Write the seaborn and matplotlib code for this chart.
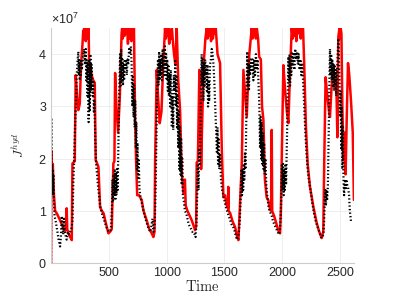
import matplotlib
matplotlib.use("Agg")
import matplotlib.pyplot as plt
import matplotlib.ticker as mticker
import seaborn as sns
import numpy as np
import pandas as pd

# ---- data (values in units of 1e7) ----
t_red = [0, 2, 8, 15, 25, 35, 50, 78, 100, 121, 130, 135, 140, 150, 165, 179, 185, 205, 213, 225, 236, 248,
         260, 272, 278, 282, 286, 290, 295, 300, 305, 310, 315, 320, 325, 330, 337, 350, 365, 378, 386, 400,
         410, 424, 440, 455, 470, 482, 496, 510, 525, 539, 548, 554, 565, 580, 595, 610, 615, 620, 628, 635,
         642, 650, 658, 665, 672, 680, 688, 695, 702, 710, 717, 727, 735, 745, 760, 784, 800, 827, 850, 871,
         885, 895, 900, 914, 925, 940, 955, 970, 986, 993, 1000, 1008, 1015, 1022, 1030, 1038, 1045, 1060, 1075,
         1087, 1100, 1116, 1130, 1145, 1158, 1165, 1180, 1200, 1217, 1235, 1246, 1255, 1260, 1270, 1283, 1290,
         1298, 1305, 1320, 1335, 1347, 1354, 1361, 1368, 1376, 1384, 1392, 1400, 1410, 1418, 1425, 1440, 1462,
         1477, 1491, 1505, 1520, 1530, 1533, 1536, 1549, 1570, 1592, 1610, 1621, 1635, 1650, 1664, 1680, 1693,
         1705, 1715, 1736, 1743, 1750, 1757, 1765, 1772, 1780, 1791, 1800, 1815, 1825, 1837, 1850, 1865, 1880,
         1895, 1905, 1909, 1913, 1930, 1950, 1970, 1981, 1988, 1995, 2010, 2025, 2040, 2053, 2065, 2082, 2090,
         2098, 2106, 2114, 2122, 2130, 2140, 2150, 2160, 2170, 2180, 2190, 2205, 2220, 2240, 2270, 2298, 2320,
         2341, 2355, 2363, 2375, 2390, 2405, 2413, 2425, 2440, 2455, 2470, 2477, 2485, 2495, 2500, 2505, 2512,
         2520, 2530, 2540, 2548, 2560, 2569, 2580, 2595, 2610, 2620]
j_red = [0.0, 2.15, 1.5, 1.9, 1.3, 1.0, 0.95, 0.82, 0.7, 0.62, 0.7, 1.05, 0.65, 0.57, 0.5, 0.44, 1.91, 1.95,
         3.6, 3.2, 2.93, 3.05, 3.83, 4.2, 4.45, 4.3, 4.5, 4.35, 4.5, 4.25, 4.5, 4.4, 4.5, 4.3, 4.5, 3.64, 3.8,
         3.6, 3.5, 3.45, 1.97, 1.9, 1.84, 1.07, 1.0, 0.95, 0.8, 0.69, 0.57, 0.6, 0.65, 1.91, 1.95, 3.64, 3.0,
         2.5, 3.2, 4.4, 4.5, 4.3, 4.5, 4.35, 4.5, 4.4, 4.5, 4.2, 4.5, 4.3, 4.5, 4.25, 4.5, 4.4, 4.5, 2.8, 2.0,
         1.3, 1.3, 1.21, 1.0, 0.82, 0.65, 0.57, 0.5, 0.6, 1.93, 3.7, 3.2, 2.68, 2.9, 3.8, 4.5, 4.3, 4.5, 4.35,
         4.5, 4.2, 4.45, 4.3, 4.5, 4.08, 3.8, 4.5, 3.5, 2.93, 1.78, 1.34, 1.6, 1.1, 1.0, 0.9, 0.82, 0.7, 0.63,
         0.7, 1.93, 1.95, 3.7, 3.5, 1.8, 2.5, 3.8, 4.3, 4.5, 4.3, 4.5, 4.35, 4.5, 4.25, 4.5, 4.3, 4.5, 4.4, 4.5,
         4.0, 3.83, 2.16, 1.26, 1.3, 1.1, 1.05, 1.46, 1.0, 0.96, 0.8, 0.69, 0.5, 0.44, 1.15, 1.93, 3.7, 3.2,
         2.8, 3.5, 4.0, 4.5, 4.3, 4.5, 4.35, 4.5, 4.3, 4.5, 4.3, 3.95, 3.9, 3.0, 2.74, 1.6, 1.26, 1.2, 1.02,
         1.0, 2.55, 1.0, 0.9, 0.75, 0.6, 0.57, 1.0, 1.93, 3.79, 3.3, 2.9, 2.68, 3.5, 4.5, 4.3, 4.5, 4.35, 4.5,
         4.25, 4.5, 4.4, 4.5, 4.3, 4.5, 4.5, 3.8, 2.6, 1.9, 1.46, 1.07, 0.77, 0.6, 0.48, 0.6, 1.91, 3.56, 3.2,
         2.9, 2.8, 3.3, 3.8, 3.5, 3.2, 2.41, 4.33, 4.5, 4.3, 4.5, 4.4, 3.0, 1.97, 2.5, 1.7, 3.0, 3.83, 3.6,
         3.1, 2.5, 1.21]

t_black = [0, 2, 5, 8, 11, 14, 17, 20, 24, 30, 40, 55, 65, 78, 85, 92, 98, 105, 112, 120, 128, 135, 145, 155,
           165, 175, 185, 192, 200, 205, 210, 215, 220, 225, 230, 236, 240, 244, 248, 252, 256, 260, 265, 270,
           275, 280, 285, 290, 295, 300, 305, 310, 315, 320, 325, 330, 335, 340, 345, 350, 355, 360, 365, 370,
           375, 380, 385, 390, 398, 405, 415, 425, 440, 455, 470, 485, 500, 512, 520, 527, 531, 536, 541, 546,
           551, 556, 561, 566, 571, 576, 582, 590, 597, 602, 607, 612, 617, 622, 627, 632, 637, 642, 648, 655,
           662, 668, 675, 682, 690, 697, 703, 708, 713, 718, 723, 728, 733, 738, 743, 748, 753, 758, 765, 775,
           790, 810, 830, 845, 860, 870, 878, 885, 892, 898, 905, 912, 918, 925, 930, 935, 940, 945, 950, 955,
           960, 965, 970, 975, 980, 985, 990, 995, 1000, 1005, 1010, 1015, 1020, 1025, 1030, 1035, 1040, 1045,
           1050, 1057, 1062, 1068, 1075, 1080, 1085, 1090, 1095, 1100, 1105, 1110, 1115, 1120, 1125, 1130, 1135,
           1140, 1148, 1158, 1170, 1180, 1190, 1200, 1212, 1222, 1232, 1242, 1250, 1258, 1264, 1270, 1276, 1282,
           1288, 1293, 1298, 1303, 1308, 1313, 1318, 1323, 1328, 1333, 1338, 1343, 1348, 1353, 1358, 1363, 1368,
           1375, 1383, 1390, 1398, 1405, 1412, 1420, 1428, 1435, 1440, 1445, 1450, 1455, 1462, 1470, 1480, 1490,
           1500, 1515, 1530, 1545, 1560, 1575, 1590, 1600, 1610, 1618, 1625, 1632, 1638, 1643, 1648, 1652, 1657,
           1662, 1667, 1672, 1677, 1682, 1688, 1693, 1697, 1702, 1707, 1712, 1717, 1722, 1728, 1735, 1742, 1750,
           1758, 1765, 1772, 1780, 1787, 1795, 1802, 1808, 1813, 1818, 1823, 1828, 1833, 1838, 1843, 1848, 1855,
           1862, 1870, 1880, 1890, 1900, 1910, 1920, 1930, 1940, 1950, 1960, 1970, 1978, 1985, 1992, 1997, 2002,
           2007, 2012, 2017, 2022, 2028, 2033, 2039, 2046, 2053, 2058, 2063, 2068, 2073, 2078, 2083, 2090, 2098,
           2105, 2112, 2120, 2128, 2135, 2142, 2150, 2158, 2165, 2172, 2180, 2190, 2200, 2210, 2220, 2230, 2245,
           2260, 2275, 2290, 2305, 2320, 2335, 2345, 2355, 2362, 2368, 2373, 2378, 2383, 2388, 2395, 2402, 2408,
           2413, 2418, 2423, 2428, 2433, 2438, 2443, 2448, 2453, 2458, 2463, 2468, 2473, 2478, 2485, 2490, 2495,
           2500, 2505, 2510, 2515, 2520, 2525, 2530, 2535, 2540, 2545, 2550, 2556, 2562, 2570, 2578, 2585, 2595]
j_black = [0.0, 2.78, 1.3, 1.9, 1.4, 1.8, 1.3, 1.7, 1.2, 0.9, 0.8, 0.6, 0.45, 0.32, 0.5, 0.9, 0.7, 0.55, 0.85,
           0.6, 0.5, 0.45, 0.6, 0.55, 0.6, 0.65, 0.8, 1.5, 2.0, 2.4, 2.8, 3.0, 3.5, 3.7, 3.9, 4.05, 3.6, 3.9,
           3.5, 3.8, 3.6, 3.9, 3.7, 3.8, 3.9, 4.05, 4.1, 3.9, 3.8, 4.1, 3.5, 3.9, 3.2, 3.8, 2.7, 3.9, 2.9, 4.0,
           3.3, 3.8, 3.6, 3.2, 3.5, 2.9, 3.1, 2.6, 2.2, 1.9, 1.7, 1.5, 1.3, 1.1, 0.95, 0.85, 0.75, 0.65, 0.6,
           0.62, 0.7, 1.1, 1.6, 1.2, 1.7, 1.3, 1.8, 1.2, 1.7, 1.3, 1.8, 1.4, 2.2, 3.3, 4.0, 3.4, 4.1, 3.5, 3.9,
           3.4, 3.8, 3.5, 3.9, 3.7, 3.9, 3.6, 3.9, 3.8, 4.1, 4.0, 4.15, 3.8, 3.0, 3.6, 2.8, 3.4, 2.6, 3.1, 2.2,
           2.7, 1.8, 2.3, 1.6, 2.0, 1.4, 1.25, 1.1, 0.9, 0.75, 0.65, 0.6, 0.75, 0.85, 0.6, 0.65, 0.8, 1.5, 2.5,
           3.3, 3.9, 3.4, 4.05, 3.5, 3.9, 3.6, 4.0, 3.5, 4.1, 3.7, 3.9, 3.6, 4.15, 3.8, 4.0, 3.5, 3.9, 3.3, 3.8,
           3.2, 3.6, 3.0, 3.7, 3.4, 2.6, 3.2, 2.55, 3.6, 3.3, 3.9, 3.0, 3.6, 2.6, 3.2, 2.2, 2.9, 1.8, 2.6, 1.7,
           2.4, 1.5, 2.0, 1.3, 1.2, 1.0, 0.95, 0.85, 0.75, 0.7, 0.65, 0.6, 0.6, 0.55, 0.5, 0.8, 1.3, 1.9, 1.4,
           2.2, 1.9, 2.7, 3.5, 4.0, 3.4, 3.9, 3.1, 3.8, 3.4, 3.9, 3.6, 3.7, 3.3, 3.8, 3.0, 3.5, 3.1, 3.8, 3.9,
           4.1, 4.0, 3.8, 3.5, 3.0, 2.5, 2.1, 2.6, 1.9, 2.4, 1.8, 2.1, 1.6, 1.4, 1.3, 1.2, 1.05, 0.95, 0.85,
           0.75, 0.7, 0.6, 0.5, 0.45, 0.5, 0.6, 0.8, 1.1, 1.5, 1.8, 1.3, 1.8, 1.4, 1.9, 1.6, 2.1, 1.8, 2.6, 3.4,
           4.05, 3.4, 3.9, 3.3, 3.8, 3.6, 3.9, 3.7, 3.9, 3.5, 3.9, 3.6, 4.0, 3.7, 3.9, 3.4, 3.0, 2.2, 2.8, 2.0,
           2.7, 1.9, 2.5, 1.8, 2.3, 1.7, 2.0, 1.5, 1.3, 1.1, 1.0, 0.95, 0.9, 0.8, 0.75, 0.7, 0.65, 0.6, 0.55,
           0.6, 0.8, 1.3, 1.9, 1.4, 1.9, 1.3, 1.8, 1.4, 1.9, 1.5, 2.2, 3.0, 3.95, 3.5, 4.0, 3.4, 3.9, 3.6, 4.05,
           3.8, 4.0, 3.7, 4.1, 3.9, 4.05, 3.8, 4.0, 3.7, 3.9, 3.6, 3.8, 3.5, 3.0, 2.5, 2.1, 1.8, 1.6, 1.4, 1.15,
           0.95, 0.8, 0.7, 0.6, 0.5, 0.48, 0.55, 0.8, 1.2, 1.4, 1.1, 1.4, 1.2, 1.5, 2.5, 3.5, 4.1, 3.6, 4.0,
           3.5, 3.9, 3.4, 3.8, 3.3, 3.8, 3.4, 3.7, 3.2, 3.6, 3.9, 4.3, 4.0, 3.5, 2.8, 3.3, 2.2, 3.0, 1.8, 2.6,
           1.6, 1.3, 1.5, 1.6, 1.4, 1.6, 1.5, 1.45, 1.3, 1.0, 0.8]

x_ticks = [500, 1000, 1500, 2000, 2500]
y_ticks = [0, 1e7, 2e7, 3e7, 4e7]

df_red = pd.DataFrame({"t": t_red, "J": np.array(j_red) * 1e7})
df_black = pd.DataFrame({"t": t_black, "J": np.array(j_black) * 1e7})

sns.set_style("white")
plt.rcParams["font.family"] = ["Liberation Sans", "DejaVu Sans"]
plt.rcParams["mathtext.fontset"] = "custom"
plt.rcParams["mathtext.rm"] = "Liberation Sans"
plt.rcParams["mathtext.it"] = "Liberation Sans:italic"

fig = plt.figure(figsize=(3.99, 2.99), dpi=100)
ax = fig.add_axes([0.128, 0.120, 0.759, 0.786])

sns.lineplot(data=df_red, x="t", y="J", ax=ax, color="#ff0000", lw=1.8,
             sort=False, estimator=None, legend=False)
sns.lineplot(data=df_black, x="t", y="J", ax=ax, color="black", lw=1.6,
             linestyle=(0, (0.6, 1.0)), sort=False, estimator=None, legend=False)

ax.set_xlim(0, 2620)
ax.set_ylim(0, 4.5e7)
ax.set_xticks(x_ticks)
ax.set_yticks(y_ticks)

fmt = mticker.ScalarFormatter(useMathText=True)
fmt.set_powerlimits((0, 0))
ax.yaxis.set_major_formatter(fmt)
ax.yaxis.get_offset_text().set_fontsize(9)
ax.yaxis.get_offset_text().set_color("#262626")

ax.grid(True, color="#ebebeb", lw=0.6)
ax.set_axisbelow(True)
for s in ["top", "right"]:
    ax.spines[s].set_visible(False)
for s in ["left", "bottom"]:
    ax.spines[s].set_color("#cccccc")
    ax.spines[s].set_linewidth(0.8)
ax.tick_params(direction="in", length=3, width=0.6, color="#bbbbbb",
               labelsize=9, labelcolor="#262626", pad=3)

ax.set_xlabel(r"$\mathrm{Time}$", fontsize=10.5, math_fontfamily="cm", labelpad=0, color="#262626")
ax.set_ylabel(r"$J^{hyd}$", fontsize=9.5, math_fontfamily="cm", labelpad=8, color="#262626")

fig.savefig("out.png", dpi=100)
